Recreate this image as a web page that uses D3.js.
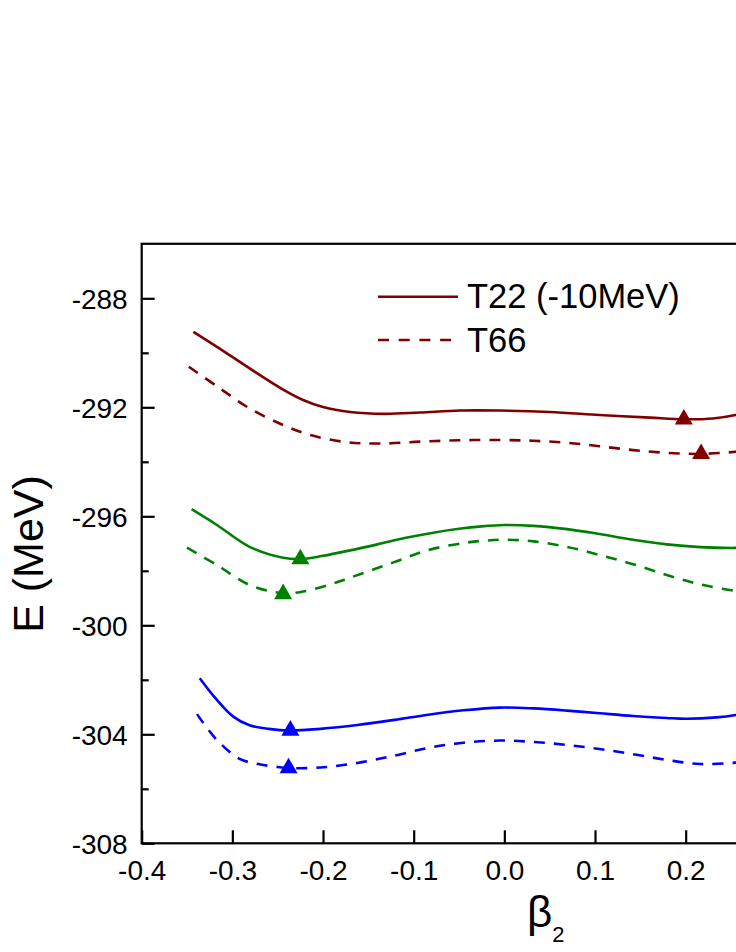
<!DOCTYPE html>
<html>
<head>
	<meta charset="UTF-8">
	<script src="https://d3js.org/d3.v7.min.js"></script>
	<style>
		html, body { margin: 0; padding: 0; overflow: hidden; background: #fff; }
		text { font-family: "Liberation Sans", Arial, sans-serif; fill: #000; }
	</style>
</head>
<body>
	<script type="text/javascript">
		// curves (beta2, E in MeV)
		var redT22Beta = [-0.343, -0.317, -0.281, -0.244, -0.222, -0.200, -0.170, -0.132, -0.093, -0.049, -0.005, 0.050, 0.105, 0.161, 0.198, 0.230, 0.255, 0.270];
		var redT22E = [-289.23, -289.78, -290.57, -291.35, -291.73, -291.99, -292.17, -292.24, -292.19, -292.12, -292.12, -292.17, -292.28, -292.38, -292.44, -292.41, -292.28, -292.15];

		var redT66Beta = [-0.348, -0.314, -0.281, -0.244, -0.214, -0.174, -0.137, -0.093, -0.049, -0.005, 0.032, 0.069, 0.105, 0.142, 0.179, 0.217, 0.255, 0.270];
		var redT66E = [-290.51, -291.30, -292.04, -292.65, -293.02, -293.28, -293.33, -293.26, -293.21, -293.20, -293.23, -293.30, -293.43, -293.57, -293.67, -293.71, -293.63, -293.56];

		var greenT22Beta = [-0.345, -0.317, -0.281, -0.244, -0.225, -0.200, -0.170, -0.140, -0.110, -0.080, -0.050, -0.025, 0.000, 0.032, 0.069, 0.105, 0.142, 0.179, 0.216, 0.255, 0.270];
		var greenT22E = [-295.74, -296.32, -297.12, -297.52, -297.57, -297.45, -297.25, -297.03, -296.80, -296.61, -296.46, -296.37, -296.32, -296.35, -296.47, -296.65, -296.86, -297.03, -297.13, -297.16, -297.14];

		var greenT66Beta = [-0.350, -0.317, -0.281, -0.244, -0.222, -0.192, -0.170, -0.123, -0.084, -0.045, -0.020, 0.002, 0.032, 0.069, 0.105, 0.142, 0.179, 0.216, 0.255, 0.270];
		var greenT66E = [-297.15, -297.79, -298.52, -298.82, -298.76, -298.50, -298.25, -297.70, -297.24, -296.98, -296.89, -296.86, -296.92, -297.12, -297.42, -297.76, -298.15, -298.50, -298.74, -298.80];

		var blueT22Beta = [-0.336, -0.317, -0.299, -0.281, -0.260, -0.236, -0.203, -0.162, -0.121, -0.084, -0.045, -0.005, 0.032, 0.069, 0.105, 0.142, 0.179, 0.201, 0.234, 0.255, 0.270];
		var blueT22E = [-301.94, -302.74, -303.35, -303.67, -303.80, -303.86, -303.80, -303.66, -303.47, -303.28, -303.12, -303.02, -303.05, -303.13, -303.23, -303.33, -303.40, -303.43, -303.38, -303.29, -303.18];

		var blueT66Beta = [-0.339, -0.317, -0.292, -0.270, -0.250, -0.238, -0.203, -0.162, -0.121, -0.084, -0.045, -0.005, 0.032, 0.069, 0.105, 0.142, 0.179, 0.216, 0.255, 0.270];
		var blueT66E = [-303.26, -304.21, -304.90, -305.10, -305.20, -305.24, -305.22, -305.05, -304.78, -304.50, -304.31, -304.23, -304.28, -304.39, -304.54, -304.73, -304.94, -305.09, -305.04, -304.98];

		// minima (triangles)
		var minBeta = [0.198, 0.217, -0.225, -0.244, -0.236, -0.238];
		var minE = [-292.44, -293.71, -297.57, -298.85, -303.86, -305.24];
		var minColor = ["#800000", "#800000", "#008000", "#008000", "#0000ff", "#0000ff"];

		// only the ticks inside the 736px window
		var xTicks = [-0.4, -0.3, -0.2, -0.1, 0.0, 0.1, 0.2];
		var xTickLabels = ["-0.4", "-0.3", "-0.2", "-0.1", "0.0", "0.1", "0.2"];
		var yTicks = [-308, -304, -300, -296, -292, -288];
		var yTickLabels = ["-308", "-304", "-300", "-296", "-292", "-288"];
		var yMinorTicks = [-306, -302, -298, -294, -290];

		var legendNames = ["T22 (-10MeV)", "T66"];

		var W = 900, H = 952;
		var pL = 141.7, pR = 867, pT = 243.8, pB = 843.3;

		var xScale = d3.scaleLinear().domain([-0.4, 0.4]).range([pL, pR]);
		var yScale = d3.scaleLinear().domain([-308, -286]).range([pB, pT]);

		var svg = d3.select("body").append("svg").attr("width", W).attr("height", H);

		var series = [
			{b: redT22Beta, e: redT22E, c: "#800000", dash: null},
			{b: redT66Beta, e: redT66E, c: "#800000", dash: "11,9"},
			{b: greenT22Beta, e: greenT22E, c: "#008000", dash: null},
			{b: greenT66Beta, e: greenT66E, c: "#008000", dash: "11,9"},
			{b: blueT22Beta, e: blueT22E, c: "#0000ff", dash: null},
			{b: blueT66Beta, e: blueT66E, c: "#0000ff", dash: "11,9"}
		];

		var line = d3.line()
			.x(function(d){ return xScale(d[0]); })
			.y(function(d){ return yScale(d[1]); })
			.curve(d3.curveCatmullRom.alpha(0.5));

		series.forEach(function(s){
			var pts = s.b.map(function(v, i){ return [v, s.e[i]]; });
			svg.append("path").attr("d", line(pts))
				.attr("fill", "none").attr("stroke", s.c).attr("stroke-width", 2.6)
				.attr("stroke-dasharray", s.dash);
		});

		//triangles
		var tri = d3.symbol().type(d3.symbolTriangle).size(140);
		minBeta.forEach(function(b, i){
			svg.append("path").attr("d", tri())
				.attr("transform", "translate(" + xScale(b) + "," + yScale(minE[i]) + ")")
				.attr("fill", minColor[i]);
		});

		//axes
		var xAxis = d3.axisBottom(xScale).tickValues(xTicks)
			.tickFormat(function(d, i){ return xTickLabels[i]; })
			.tickSizeInner(-13).tickSizeOuter(0).tickPadding(17);
		var gx = svg.append("g").attr("transform", "translate(0," + pB + ")").call(xAxis);

		var yAxis = d3.axisLeft(yScale).tickValues(yTicks)
			.tickFormat(function(d, i){ return yTickLabels[i]; })
			.tickSizeInner(-13).tickSizeOuter(0).tickPadding(14);
		var gy = svg.append("g").attr("transform", "translate(" + pL + ",0)").call(yAxis);

		var yMinor = d3.axisLeft(yScale).tickValues(yMinorTicks).tickFormat("").tickSizeInner(-7).tickSizeOuter(0);
		var gym = svg.append("g").attr("transform", "translate(" + pL + ",0)").call(yMinor);

		[gx, gy, gym].forEach(function(g){
			g.select(".domain").remove();
			g.selectAll("line").attr("stroke", "#000").attr("stroke-width", 2.2);
			g.selectAll("text").style("font-size", "28px").attr("fill", "#000")
				.style("font-family", "'Liberation Sans', Arial, sans-serif");
		});
		gy.selectAll("text").attr("dy", "0.36em");

		svg.append("rect").attr("x", pL).attr("y", pT)
			.attr("width", pR - pL).attr("height", pB - pT)
			.attr("fill", "none").attr("stroke", "#000").attr("stroke-width", 2.2);

		//axis titles
		svg.append("text").attr("transform", "translate(43,554) rotate(-90)")
			.attr("text-anchor", "middle").style("font-size", "43px").text("E (MeV)");

		var xt = svg.append("text").attr("x", 527).attr("y", 927).style("font-size", "44px");
		xt.append("tspan").text("β");
		xt.append("tspan").attr("y", 942).style("font-size", "22px").text("2");

		//legend
		svg.append("line").attr("x1", 378).attr("x2", 458).attr("y1", 296.7).attr("y2", 296.7)
			.attr("stroke", "#800000").attr("stroke-width", 2.6);
		svg.append("line").attr("x1", 378).attr("x2", 458).attr("y1", 340).attr("y2", 340)
			.attr("stroke", "#800000").attr("stroke-width", 2.6).attr("stroke-dasharray", "11,9.7");
		svg.append("text").attr("x", 467).attr("y", 308.3).style("font-size", "34.5px").text(legendNames[0]);
		svg.append("text").attr("x", 467).attr("y", 351.7).style("font-size", "34.5px").text(legendNames[1]);
	</script>
</body>
</html>
